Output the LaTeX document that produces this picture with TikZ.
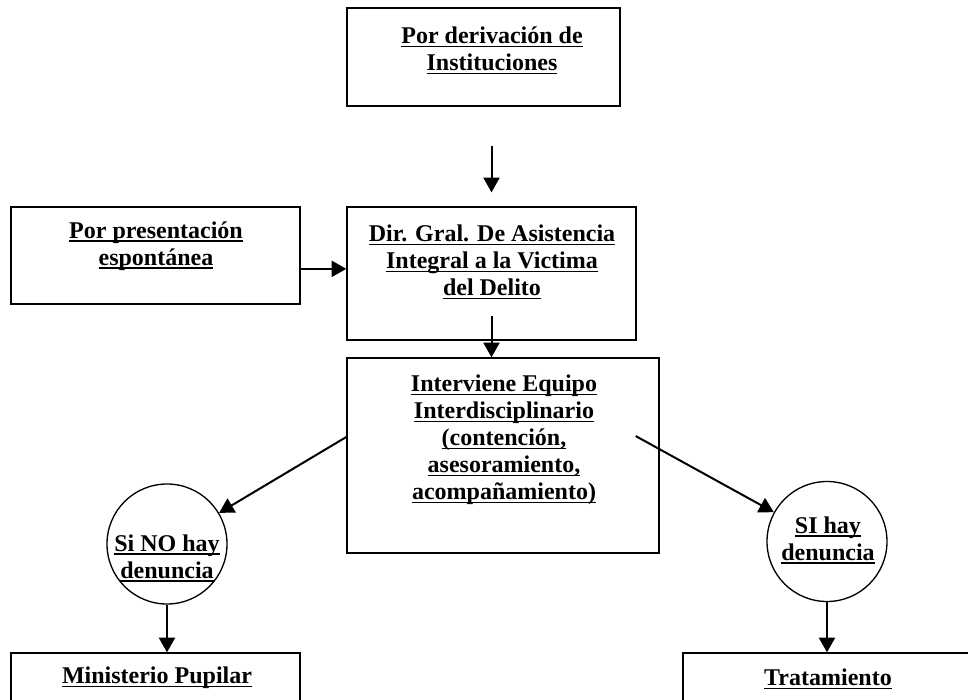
\documentclass[tikz,border=0pt]{standalone}
\usepackage{fontspec}
\setmainfont{Liberation Serif}
\usetikzlibrary{arrows.meta}
\newcommand{\ulin}[1]{\setbox0\hbox{#1}\rlap{\rule[-2.6pt]{\wd0}{1.1pt}}\box0}
\tikzstyle{caja}=[draw, line width=1pt, inner sep=0pt]
\tikzstyle{circulo}=[draw, circle, line width=1pt, minimum size=90pt, inner sep=0pt]
\tikzstyle{texto}=[align=center, inner sep=0pt, font=\bfseries\fontsize{18}{20.25}\selectfont]
\tikzstyle{flecha}=[line width=1.5pt, -{Triangle[length=11pt, width=12pt]}]

\begin{document}
\begin{tikzpicture}[x=0.75pt, y=-0.75pt]
    \useasboundingbox (0,0) rectangle (968,700);
    \clip (0,0) rectangle (968,700);
% Boxes
    \node[caja, minimum width=204.75pt, minimum height=73.5pt] (deriv) at (483.5,57) {};
    \node[caja, minimum width=216.75pt, minimum height=72.75pt] (presentacion) at (155.5,255.5) {};
    \node[caja, minimum width=216.75pt, minimum height=99.75pt] (dir) at (491.5,273.5) {};
    \node[caja, minimum width=234pt, minimum height=146.25pt] (interv) at (503,455.5) {};
    \node[circulo] (nohay) at (167,544) {};
    \node[circulo] (sihay) at (827,541.5) {};
    \node[caja, minimum width=216.75pt, minimum height=73.5pt] (ministerio) at (155.5,702) {};
    \node[caja, minimum width=222.75pt, minimum height=73.5pt] (tratamiento) at (831.5,702) {};
% Texts
    \node[texto] (derivtxt) at (492,50.5) {\ulin{Por derivación de}\\\ulin{Instituciones}};
    \node[texto] (presentaciontxt) at (156,246) {\ulin{Por presentación}\\\ulin{espontánea}};
    \node[texto] (dirtxt) at (492,262) {\ulin{Dir. Gral. De Asistencia}\\\ulin{Integral a la Victima}\\\ulin{del Delito}};
    \node[texto] (intervtxt) at (504,440) {\ulin{Interviene Equipo}\\\ulin{Interdisciplinario}\\\ulin{(contención,}\\\ulin{asesoramiento,}\\\ulin{acompañamiento)}};
    \node[texto] (nohaytxt) at (167,558) {\ulin{Si NO hay}\\\ulin{denuncia}};
    \node[texto] (sihaytxt) at (828,540) {\ulin{SI hay}\\\ulin{denuncia}};
    \node[texto] (ministeriotxt) at (157,678) {\ulin{Ministerio Pupilar}};
    \node[texto] (tratamientotxt) at (828,679) {\ulin{Tratamiento}};
% Arrows
    \draw[flecha, shorten <=29.25pt, shorten >=10.5pt] (dir.north |- deriv.south) -- (dir.north);
    \coordinate (pe) at ([yshift=-10pt]presentacion.east);
    \draw[flecha] (pe) -- (pe -| dir.west);
    \draw[flecha, shorten <=-18.75pt] (dir.south) -- (dir.south |- interv.north);
    \draw[flecha] ([yshift=13.9pt]interv.west) -- (nohay);
    \draw[flecha] ([xshift=-18pt, yshift=14.6pt]interv.east) -- (sihay);
    \draw[flecha] (nohay.south) -- (nohay.south |- ministerio.north);
    \draw[flecha] (sihay.south) -- (sihay.south |- tratamiento.north);
\end{tikzpicture}
\end{document}
